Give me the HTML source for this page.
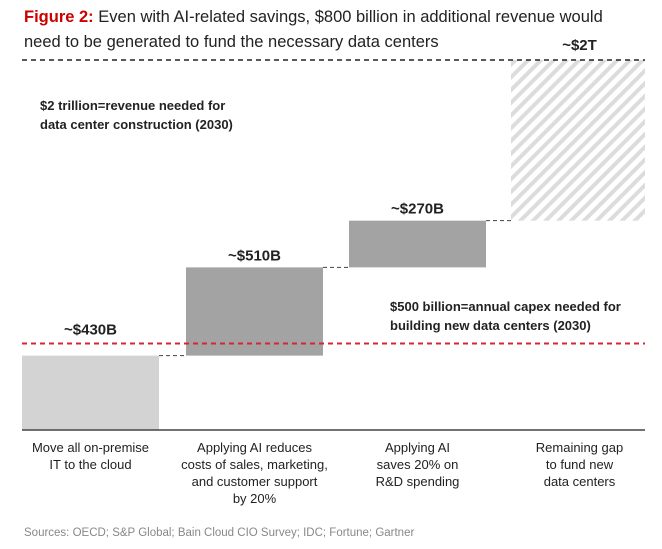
<!DOCTYPE html>
<html><head><meta charset="utf-8"><style>
body{margin:0;background:#fff;font-family:"Liberation Sans",sans-serif;}
#wrap{position:relative;width:662px;height:549px;overflow:hidden}
.t{position:absolute;white-space:nowrap}
</style></head><body>
<div id="wrap">
<div class="t" style="left:24px;top:5px;font-size:16.5px;line-height:25px;color:#222"><span style="color:#cc0000;font-weight:bold">Figure 2:</span> Even with AI-related savings, $800 billion in additional revenue would<br>need to be generated to fund the necessary data centers</div>
<svg id="chart" width="662" height="549" style="position:absolute;left:0;top:0">
<defs><pattern id="hatch" patternUnits="userSpaceOnUse" width="9" height="9" patternTransform="rotate(45)"><rect width="9" height="9" fill="#fff"/><rect width="4" height="9" fill="#dcdcdc"/></pattern></defs>
</svg>
<div class="t" style="left:24px;top:527px;font-size:11.5px;color:#888">Sources: OECD; S&amp;P Global; Bain Cloud CIO Survey; IDC; Fortune; Gartner</div>
</div>
<script>
const categories=[["Move all on-premise","IT to the cloud"],["Applying AI reduces","costs of sales, marketing,","and customer support","by 20%"],["Applying AI","saves 20% on","R&D spending"],["Remaining gap","to fund new","data centers"]];
const values=[430,510,270,790];
const valueLabels=["~$430B","~$510B","~$270B","~$2T"];
const totalTarget=2000;
const capexLine=500;
const svg=document.getElementById('chart');
const NS='http://www.w3.org/2000/svg';
const base=430,scale=0.173,topY=60;
const y=v=>base-v*scale;
const xs=[22,186,349,511],bw=137;
function mk(t,a){const e=document.createElementNS(NS,t);for(const k in a)e.setAttribute(k,a[k]);svg.appendChild(e);return e;}
let cum=0;
values.forEach((v,i)=>{
  const last=i===values.length-1;
  const y0=y(cum), y1=last?topY:y(cum+v);
  const r=mk('rect',{x:xs[i],y:y1,width:i==3?134:bw,height:y0-y1,fill:i==0?'#d3d3d3':(last?'url(#hatch)':'#a3a3a3')});
  
  
  if(i<values.length-1){
    const c=mk('line',{x1:xs[i]+bw,x2:xs[i+1],y1:y(cum+v),y2:y(cum+v),stroke:'#444','stroke-width':1,'stroke-dasharray':'4,3'});
    
    
  }
  let ly=last?topY-10:y1-7;
  if(!last&&ly>y(capexLine)-8)ly=y(capexLine)-9;
  const tx=mk('text',{x:xs[i]+bw/2,y:ly,'text-anchor':'middle','font-size':15,'font-weight':'bold',fill:'#222'});
  tx.textContent=valueLabels[i];
  
  
  categories[i].forEach((s,j)=>{
    const c=mk('text',{x:xs[i]+bw/2,y:452+j*17,'text-anchor':'middle','font-size':13,fill:'#222'});
    c.textContent=s;
    
    
  });
  cum+=v;
});
const tl=mk('line',{x1:22,x2:645,y1:topY,y2:topY,stroke:'#222','stroke-width':1.5,'stroke-dasharray':'5,4'});


const rl=mk('line',{x1:22,x2:645,y1:y(capexLine),y2:y(capexLine),stroke:'#d9262e','stroke-width':2,'stroke-dasharray':'5,4'});


const ax=mk('line',{x1:22,x2:645,y1:base,y2:base,stroke:'#444','stroke-width':1.5});


[["$2 trillion=revenue needed for",40,110],["data center construction (2030)",40,129],["$500 billion=annual capex needed for",390,311],["building new data centers (2030)",390,330]].forEach(a=>{
  const t=mk('text',{x:a[1],y:a[2],'font-size':13,'font-weight':'bold',fill:'#222'});
  t.textContent=a[0];
  
  
});
</script>
</body></html>
